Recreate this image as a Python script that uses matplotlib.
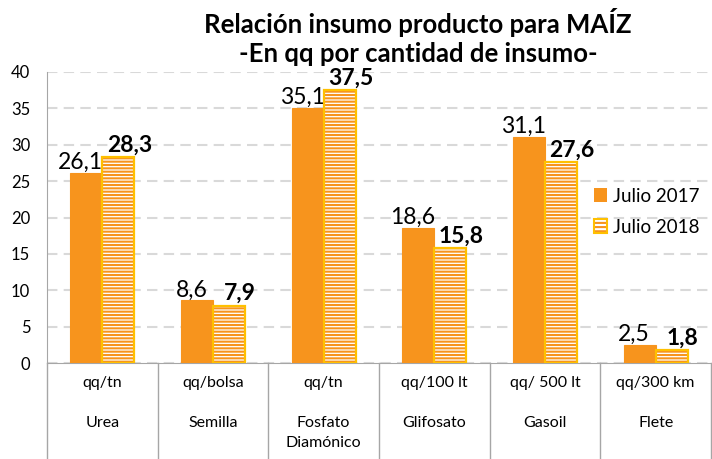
import matplotlib.pyplot as plt
from matplotlib.patches import Patch
from matplotlib.legend_handler import HandlerTuple
import numpy as np

plt.rcParams['font.family'] = ['Lato', 'DejaVu Sans']
plt.rcParams['hatch.linewidth'] = 1.5

insumos = ["Urea", "Semilla", "Fosfato\nDiamónico", "Glifosato", "Gasoil", "Flete"]
unidades = ["qq/tn", "qq/bolsa", "qq/tn", "qq/100 lt", "qq/ 500 lt", "qq/300 km"]
julio_2017 = [26.1, 8.6, 35.1, 18.6, 31.1, 2.5]
julio_2018 = [28.3, 7.9, 37.5, 15.8, 27.6, 1.8]

naranja = "#F7941D"
dorado = "#FFC000"

fig = plt.figure(figsize=(7.12, 4.59), dpi=100)
ax = fig.add_axes([47 / 712, 96 / 459, 664 / 712, 291 / 459])

x = np.arange(len(insumos))
w = 0.29

b1 = ax.bar(x - w / 2, julio_2017, w, color=naranja, edgecolor=naranja, lw=0.8, zorder=3)
b2 = ax.bar(x + w / 2, julio_2018, w, color="white", edgecolor=naranja, hatch="-----",
            lw=0, zorder=3)
ax.bar(x + w / 2, julio_2018, w, fill=False, edgecolor=dorado, lw=1.6, zorder=4)

# etiquetas de valores
for xi, v in zip(x, julio_2017):
    ax.annotate(f"{v:.1f}".replace(".", ","), (xi - w / 2, v), xytext=(-4, 0),
                textcoords="offset points", ha="center", va="bottom", fontsize=16.5)
for xi, v in zip(x, julio_2018):
    ax.annotate(f"{v:.1f}".replace(".", ","), (xi + w / 2, v), xytext=(8, 1),
                textcoords="offset points", ha="center", va="bottom", fontsize=16.5,
                fontweight="bold")

ax.set_xlim(-0.5, len(insumos) - 0.5)
ax.set_ylim(0, 40)
ax.set_yticks(range(0, 41, 5))
ax.tick_params(axis="y", length=0, labelsize=12, pad=12)
ax.set_xticks([])
ax.yaxis.grid(True, color="#d9d9d9", linestyle=(0, (5, 3)), lw=1.5, zorder=0)
for s in ["top", "right"]:
    ax.spines[s].set_visible(False)
ax.spines["left"].set_color("#a6a6a6")
ax.spines["bottom"].set_color("#a6a6a6")

# tabla de categorías debajo del eje
for k in range(len(insumos) + 1):
    ax.plot([k - 0.5, k - 0.5], [0, -0.4], transform=ax.get_xaxis_transform(),
            color="#a6a6a6", lw=1, clip_on=False)
for xi, u, n in zip(x, unidades, insumos):
    ax.text(xi, -0.069, u, transform=ax.get_xaxis_transform(), ha="center",
            va="center", fontsize=11.5)
    ax.text(xi, -0.182, n, transform=ax.get_xaxis_transform(), ha="center",
            va="top", fontsize=11.5, linespacing=1.55)

fig.text(0.587, 0.952, "Relación insumo producto para MAÍZ", ha="center", va="center",
         fontsize=18.5, fontweight="bold")
fig.text(0.587, 0.882, "-En qq por cantidad de insumo-", ha="center", va="center",
         fontsize=18.5, fontweight="bold")

h2018 = (Patch(facecolor="white", edgecolor=naranja, hatch="----", lw=0),
         Patch(fill=False, edgecolor=dorado, lw=1.5))
ax.legend([Patch(facecolor=naranja), h2018], ["Julio 2017", "Julio 2018"],
          handler_map={tuple: HandlerTuple(ndivide=1)},
          loc="center left", bbox_to_anchor=(0.81, 0.52), frameon=False,
          fontsize=13.5, handlelength=0.7, handleheight=0.8, handletextpad=0.3,
          labelspacing=0.75, borderpad=0)

fig.savefig("out.png", dpi=100)
